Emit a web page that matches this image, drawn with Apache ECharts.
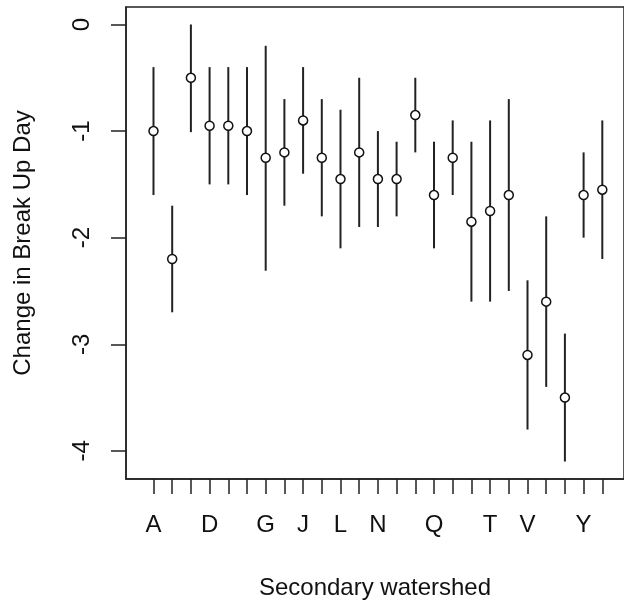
<!DOCTYPE html>
<html>
<head>
<meta charset="utf-8">
<script src="https://cdn.jsdelivr.net/npm/echarts@6/dist/echarts.min.js"></script>
<style>
html, body { margin: 0; padding: 0; background: #fff; }
#chart { width: 624px; height: 605px; }
</style>
</head>
<body>
<div id="chart"></div>
<script>
// 25 watersheds, letters A-Z without I
var categories = ['A', 'B', 'C', 'D', 'E', 'F', 'G', 'H', 'J', 'K', 'L', 'M', 'N',
	'O', 'P', 'Q', 'R', 'S', 'T', 'U', 'V', 'W', 'X', 'Y', 'Z'];
var estimates = [-1.00, -2.20, -0.50, -0.95, -0.95, -1.00, -1.25, -1.20, -0.90, -1.25, -1.45, -1.20, -1.45,
	-1.45, -0.85, -1.60, -1.25, -1.85, -1.75, -1.60, -3.10, -2.60, -3.50, -1.60, -1.55];
var lower = [-1.60, -2.70, -1.01, -1.50, -1.50, -1.60, -2.31, -1.70, -1.40, -1.80, -2.10, -1.90, -1.90,
	-1.80, -1.20, -2.10, -1.60, -2.60, -2.60, -2.50, -3.80, -3.40, -4.10, -2.00, -2.20];
var upper = [-0.40, -1.70, 0.00, -0.40, -0.40, -0.40, -0.20, -0.70, -0.40, -0.70, -0.80, -0.50, -1.00,
	-1.10, -0.50, -1.10, -0.90, -1.10, -0.90, -0.70, -2.40, -1.80, -2.90, -1.20, -0.90];
var labelledCategories = ['A', 'D', 'G', 'J', 'L', 'N', 'Q', 'T', 'V', 'Y'];
var yTicks = [0, -1, -2, -3, -4];

var font = "'Liberation Sans', Arial, Helvetica, sans-serif";
var ink = '#111';

// positions 1..25 on a numeric axis, like R's default plot()
var positions = categories.map(function (c, i) { return i + 1; });
var labelPositions = labelledCategories.map(function (c) { return categories.indexOf(c) + 1; });

var barData = categories.map(function (c, i) { return [i + 1, lower[i], upper[i]]; });
var pointData = categories.map(function (c, i) { return [i + 1, estimates[i]]; });

var chart = echarts.init(document.getElementById('chart'));
chart.setOption({
	animation: false,
	textStyle: { fontFamily: font },
	grid: {
		left: 126, right: -1, top: 7, bottom: 122,
		show: true, borderColor: '#222', borderWidth: 1.5
	},
	xAxis: {
		type: 'value',
		min: -0.47,
		max: 26.16,
		name: 'Secondary watershed',
		nameLocation: 'middle',
		nameGap: 97,
		nameTextStyle: { fontSize: 24, color: ink, fontFamily: font },
		splitLine: { show: false },
		axisLine: { show: true, onZero: false, lineStyle: { color: '#222', width: 1.5 } },
		axisTick: { show: true, length: 15, customValues: positions, lineStyle: { color: '#222', width: 1.5 } },
		axisLabel: {
			show: true, margin: 34, fontSize: 24, color: ink, fontFamily: font,
			customValues: labelPositions,
			formatter: function (v) { return categories[Math.round(v) - 1]; }
		}
	},
	yAxis: {
		type: 'value',
		min: -4.264,
		max: 0.164,
		name: 'Change in Break Up Day',
		nameLocation: 'middle',
		nameGap: 91,
		nameTextStyle: { fontSize: 24, color: ink, fontFamily: font },
		splitLine: { show: false },
		axisLine: { show: true, onZero: false, lineStyle: { color: '#222', width: 1.5 } },
		axisTick: { show: true, length: 15, customValues: yTicks, lineStyle: { color: '#222', width: 1.5 } },
		axisLabel: {
			show: true, margin: 32, rotate: 90, fontSize: 24, color: ink, fontFamily: font,
			customValues: yTicks,
			formatter: function (v) { return String(Math.round(v)); }
		}
	},
	series: [{
		type: 'custom',
		data: barData,
		encode: { x: 0, y: [1, 2] },
		renderItem: function (params, api) {
			var lo = api.coord([api.value(0), api.value(1)]);
			var hi = api.coord([api.value(0), api.value(2)]);
			return {
				type: 'line',
				shape: { x1: lo[0], y1: lo[1], x2: hi[0], y2: hi[1] },
				style: { stroke: '#222', lineWidth: 2 }
			};
		},
		z: 2
	}, {
		type: 'scatter',
		data: pointData,
		symbol: 'circle',
		symbolSize: 9,
		itemStyle: { color: '#fff', borderColor: '#111', borderWidth: 1.5, opacity: 1 },
		z: 3
	}]
});
</script>
</body>
</html>
